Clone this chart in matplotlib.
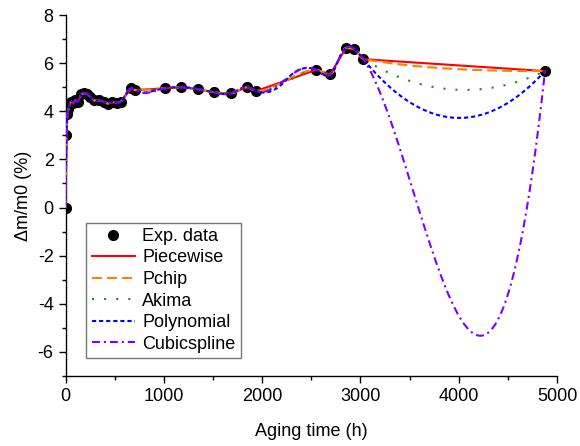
import numpy as np
import matplotlib
matplotlib.use('Agg')
import matplotlib.pyplot as plt
from matplotlib.ticker import MultipleLocator

# ---------------- data ----------------
time_h = [0, 10, 20, 30, 45, 60, 80, 100, 130, 160, 190, 220, 250, 290,
          340, 390, 430, 470, 520, 560, 670, 710, 1010, 1175, 1345, 1514,
          1681, 1849, 1938, 2548, 2691, 2853, 2938, 3030, 4878]
mass_change = [0.0, 3.0, 3.9, 4.1, 4.3, 4.4, 4.35, 4.45, 4.4, 4.7, 4.75,
               4.72, 4.6, 4.45, 4.45, 4.4, 4.32, 4.38, 4.35, 4.40, 4.95,
               4.88, 4.95, 5.0, 4.92, 4.78, 4.74, 5.0, 4.84, 5.72, 5.53,
               6.63, 6.59, 6.165, 5.67]

series_labels = ['Piecewise', 'Pchip', 'Akima', 'Polynomial', 'Cubicspline']
series_colors = ['#ff0000', '#ff8000', '#1a8c1a', '#0000ff', '#8000ff']

x_ticks = [0, 1000, 2000, 3000, 4000, 5000]
y_ticks = [-6, -4, -2, 0, 2, 4, 6, 8]


# ---------------- interpolation methods ----------------
def hermite(x, y, d, xs):
    idx = np.clip(np.searchsorted(x, xs, side='right') - 1, 0, len(x) - 2)
    h = x[idx + 1] - x[idx]
    t = (xs - x[idx]) / h
    h00 = 2 * t**3 - 3 * t**2 + 1
    h10 = t**3 - 2 * t**2 + t
    h01 = -2 * t**3 + 3 * t**2
    h11 = t**3 - t**2
    return h00 * y[idx] + h10 * h * d[idx] + h01 * y[idx + 1] + h11 * h * d[idx + 1]


def pchip(x, y, xs):
    h = np.diff(x)
    m = np.diff(y) / h
    n = len(x)
    d = np.zeros(n)
    for k in range(1, n - 1):
        if m[k - 1] * m[k] > 0:
            w1 = 2 * h[k] + h[k - 1]
            w2 = h[k] + 2 * h[k - 1]
            d[k] = (w1 + w2) / (w1 / m[k - 1] + w2 / m[k])

    def edge(h0, h1, m0, m1):
        dd = ((2 * h0 + h1) * m0 - h0 * m1) / (h0 + h1)
        if np.sign(dd) != np.sign(m0):
            dd = 0.0
        elif np.sign(m0) != np.sign(m1) and abs(dd) > abs(3 * m0):
            dd = 3 * m0
        return dd
    d[0] = edge(h[0], h[1], m[0], m[1])
    d[-1] = edge(h[-1], h[-2], m[-1], m[-2])
    return hermite(x, y, d, xs)


def akima(x, y, xs):
    n = len(x)
    m = np.empty(n + 3)
    m[2:-2] = np.diff(y) / np.diff(x)
    m[1] = 2 * m[2] - m[3]
    m[0] = 2 * m[1] - m[2]
    m[-2] = 2 * m[-3] - m[-4]
    m[-1] = 2 * m[-2] - m[-3]
    t = 0.5 * (m[3:] + m[:-3])
    dm = np.abs(np.diff(m))
    f1 = dm[2:]
    f2 = dm[:-2]
    f12 = f1 + f2
    ind = f12 > 1e-9 * np.max(f12)
    t[ind] = (f1[ind] * m[1:-2][ind] + f2[ind] * m[2:-1][ind]) / f12[ind]
    return hermite(x, y, t, xs)


def cubic_spline(x, y, xs):
    n = len(x)
    h = np.diff(x)
    delta = np.diff(y) / h
    A = np.zeros((n, n))
    b = np.zeros(n)
    for i in range(1, n - 1):
        A[i, i - 1] = h[i - 1]
        A[i, i] = 2 * (h[i - 1] + h[i])
        A[i, i + 1] = h[i]
        b[i] = 6 * (delta[i] - delta[i - 1])
    A[0, 0], A[0, 1], A[0, 2] = h[1], -(h[0] + h[1]), h[0]
    A[-1, -3], A[-1, -2], A[-1, -1] = h[-1], -(h[-2] + h[-1]), h[-2]
    M = np.linalg.solve(A, b)
    i = np.clip(np.searchsorted(x, xs, side='right') - 1, 0, n - 2)
    hi = h[i]
    a = x[i + 1] - xs
    c = xs - x[i]
    return (M[i] * a**3 / (6 * hi) + M[i + 1] * c**3 / (6 * hi)
            + (y[i] / hi - M[i] * hi / 6) * a + (y[i + 1] / hi - M[i + 1] * hi / 6) * c)


def bspline_basis(t, k, xs):
    nb = len(t) - 1
    B = np.zeros((len(xs), nb))
    last = max(i for i in range(nb) if t[i] < t[i + 1])
    for i in range(nb):
        if t[i] < t[i + 1]:
            B[:, i] = (xs >= t[i]) & (xs < t[i + 1])
    B[xs >= t[last + 1], last] = 1.0
    for d in range(1, k + 1):
        Bn = np.zeros((len(xs), nb - d))
        for i in range(nb - d):
            term = np.zeros(len(xs))
            den1 = t[i + d] - t[i]
            den2 = t[i + d + 1] - t[i + 1]
            if den1 > 0:
                term += (xs - t[i]) / den1 * B[:, i]
            if den2 > 0:
                term += (t[i + d + 1] - xs) / den2 * B[:, i + 1]
            Bn[:, i] = term
        B = Bn
    return B


def quadratic_spline(x, y, xs):
    mids = (x[1:] + x[:-1]) / 2.0
    t = np.r_[(x[0],) * 3, mids[1:-1], (x[-1],) * 3]
    A = bspline_basis(t, 2, x)
    c = np.linalg.solve(A, y)
    return bspline_basis(t, 2, xs) @ c


x = np.asarray(time_h, float)
y = np.asarray(mass_change, float)
xs = np.union1d(np.linspace(x[0], x[-1], 6000), x)

curves = [np.interp(xs, x, y), pchip(x, y, xs), akima(x, y, xs),
          quadratic_spline(x, y, xs), cubic_spline(x, y, xs)]
dash_styles = ['-', (0, (4.8, 2.4)), (0, (1, 4.8)), (0, (2, 1.4)),
               (0, (3.8, 1.9, 1, 1.9))]

# ---------------- plotting ----------------
plt.rcParams['font.family'] = ['Liberation Sans', 'DejaVu Sans']
plt.rcParams['axes.unicode_minus'] = False
FS = 13
fig = plt.figure(figsize=(5.8, 4.46), dpi=100)
ax = fig.add_axes([65.5 / 580, 70 / 446, (557 - 65.5) / 580, (376 - 15) / 446])

ax.plot(x, y, 'o', color='black', ms=7, label='Exp. data', zorder=2)
for yc, lab, col, ls in zip(curves, series_labels, series_colors, dash_styles):
    ax.plot(xs, yc, color=col, lw=1.5, linestyle=ls, label=lab, zorder=3)

ax.set_xlim(0, 5000)
ax.set_ylim(-7, 8)
ax.set_xticks(x_ticks)
ax.set_yticks(y_ticks)
ax.xaxis.set_minor_locator(MultipleLocator(500))
ax.yaxis.set_minor_locator(MultipleLocator(1))
ax.tick_params(which='major', direction='out', length=5, width=1, labelsize=FS)
ax.tick_params(which='minor', direction='out', length=3, width=1)
for s in ['top', 'right']:
    ax.spines[s].set_visible(False)
for s in ['left', 'bottom']:
    ax.spines[s].set_linewidth(1)

ax.set_xlabel('Aging time (h)', fontsize=FS, labelpad=13)
ax.set_ylabel('\u0394m/m0 (%)', fontsize=FS, labelpad=4)

leg = ax.legend(loc='lower left', bbox_to_anchor=(0.042, 0.05), borderaxespad=0,
                fontsize=FS, numpoints=1, handlelength=2.4, handletextpad=0.4,
                labelspacing=0.25, fancybox=False, frameon=True, borderpad=0.3)
leg.get_frame().set_edgecolor('#555555')
leg.get_frame().set_linewidth(1)

fig.savefig('out.png', dpi=100)
